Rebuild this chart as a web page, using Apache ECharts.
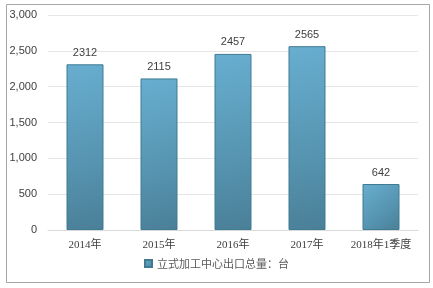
<!DOCTYPE html>
<html><head><meta charset="utf-8">
<script src="https://cdn.jsdelivr.net/npm/echarts@6/dist/echarts.min.js"></script>
<style>html,body{margin:0;padding:0;background:#fff}#c{width:433px;height:288px}</style>
</head><body><div id="c"></div>
<script>
var categories = ['2014年','2015年','2016年','2017年','2018年1季度'];
var values = [2312, 2115, 2457, 2565, 642];
var seriesName = '立式加工中心出口总量：台';
var yTicks = [0, 500, 1000, 1500, 2000, 2500, 3000];

var chart = echarts.init(document.getElementById('c'));
var barColor = new echarts.graphic.LinearGradient(0,0,1,1,[
  {offset:0,color:'#68aed0'},{offset:0.6,color:'#5694b0'},{offset:1,color:'#4a7f97'}]);
chart.setOption({
  animation:false,
  graphic:[{type:'rect',shape:{x:6.5,y:4.5,width:423,height:278},style:{fill:'none',stroke:'#a6a6a6',lineWidth:1}}],
  grid:{left:48,right:15,top:15,bottom:58,containLabel:false},
  xAxis:{type:'category',data:categories,
    axisLine:{lineStyle:{color:'#d9d9d9'}},axisTick:{show:false},
    axisLabel:{interval:0,color:'#404040',fontSize:11,fontFamily:'Liberation Serif, Noto Sans CJK SC',margin:10}},
  yAxis:{type:'value',min:0,max:3000,interval:500,
    axisLine:{show:false},axisTick:{show:false},
    splitLine:{lineStyle:{color:'#e6e6e6'}},
    axisLabel:{color:'#404040',fontSize:11,fontFamily:'Liberation Sans',margin:11,
      formatter:function(v){return v.toLocaleString('en-US');}}},
  legend:{bottom:14,left:'center',itemWidth:7,itemHeight:7,icon:'rect',
    textStyle:{color:'#595959',fontSize:11,fontFamily:'Noto Sans CJK SC'},data:[seriesName]},
  series:[{name:seriesName,type:'bar',data:values,barWidth:'50%',
    itemStyle:{color:barColor,borderColor:'#3f7b93',borderWidth:1},
    label:{show:true,position:'top',color:'#404040',fontSize:11,fontFamily:'Liberation Sans',distance:6}}]
});
</script></body></html>
